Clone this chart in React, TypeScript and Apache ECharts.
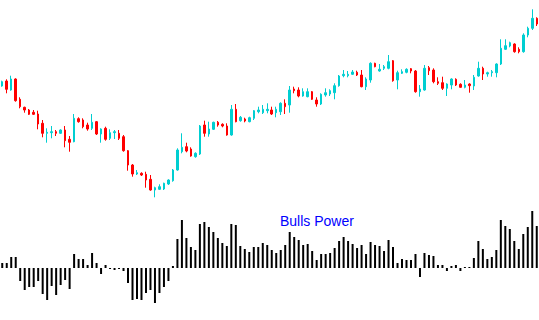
import React, { useEffect, useRef } from "react";
import * as echarts from "echarts";

// Price candles: [open, close, low, high]
const candles: number[][] = [
  [114, 118.3, 113.3, 119.3], [119, 110.7, 106.7, 120.7], [110, 121, 109.3, 124.3], [121, 99.3, 98.3, 121.7],
  [100.7, 93.3, 91.7, 102.7], [92.7, 90, 87.3, 93.3], [90, 85.7, 85, 91], [87.7, 85.7, 85, 90],
  [86, 76, 70.7, 89.3], [76.7, 66.7, 62.7, 80], [66.7, 67.7, 57.3, 71.7], [67.3, 68.3, 61.7, 74],
  [68.3, 66.7, 64, 70], [66.7, 70, 66, 70.7], [70, 59.3, 52.7, 74], [60.7, 57.7, 48.3, 64],
  [58.3, 81.7, 57.7, 86], [81.3, 78.3, 77.3, 82.7], [80, 73.3, 71.7, 81.7], [75, 71, 69.3, 77.3],
  [71.7, 77.7, 70, 86], [78.3, 66, 65, 79], [66, 71, 57.3, 71.7], [71.7, 60.7, 59.3, 73.3],
  [61.7, 67.3, 60, 70.7], [67.3, 68.3, 61, 70], [66.7, 61.7, 60, 70], [63.3, 49.3, 48.3, 65],
  [49.3, 35, 29.3, 50], [35, 26, 23.3, 36], [26, 27.3, 25, 30], [26.7, 25, 24, 27.7],
  [25.7, 20, 12.3, 28.3], [20.7, 10, 9.3, 25], [10, 12.3, 2.7, 13.3], [10.7, 13.3, 10, 15.7],
  [11, 16.7, 10, 17.3], [16, 20, 15, 20.7], [19.3, 30, 18.3, 31], [30, 50, 29.3, 51.7],
  [48.3, 52.7, 46.7, 66.7], [53.3, 49, 47.7, 57.3], [51, 44, 43.3, 52.7], [43.3, 46.7, 42.3, 47.7],
  [46, 74, 45, 75], [75, 66.7, 63.3, 79.3], [66, 71, 63.3, 78.3], [70.7, 77.7, 70, 78.3],
  [77.7, 75, 73.3, 79], [75.7, 74, 72.7, 76.7], [74, 65, 64.3, 76.7], [65, 90.7, 64.3, 95],
  [90.7, 78.3, 77.7, 96], [79.3, 82.7, 78.3, 84], [81, 79, 77.7, 82.3], [78.3, 82.3, 77.7, 83.3],
  [81.7, 89.3, 80, 90], [88.3, 90, 86.7, 93.3], [87.3, 90.7, 86, 95], [89.3, 90.7, 86.7, 96.7],
  [90, 86, 85, 93.3], [87.3, 90.7, 82.7, 93.3], [88.3, 96.7, 85, 97.7], [96.7, 93.3, 86, 100.7],
  [95, 110, 87.3, 114], [111, 109.3, 106.7, 113.3], [110, 104, 102.7, 112.7], [104, 108.3, 103.3, 111.7],
  [103.3, 108.3, 102.7, 111.7], [108.3, 100.7, 100, 109], [100, 96, 93.3, 102.7], [96, 105.7, 95, 106.7],
  [105, 107.3, 103.3, 111.7], [106, 109.3, 104, 110.7], [107.3, 114.3, 100.7, 116.7], [114.3, 124, 113.3, 125],
  [124.3, 125.7, 122.7, 130], [124.3, 125.7, 122.7, 129], [125.7, 128, 125, 130], [127.7, 125, 124, 129.3],
  [125, 113.3, 112.7, 130], [113.3, 121, 110, 122.7], [120, 136.7, 117.3, 137.7], [136.7, 133.3, 132.7, 137.3],
  [129, 130.7, 128.3, 136], [131.7, 133.3, 130, 135], [131.7, 138.3, 130.7, 145], [139.3, 119.3, 118.3, 140],
  [120, 127.3, 110.7, 129.3], [126.7, 128.3, 126, 130.7], [127.7, 130.7, 126.7, 131.7], [131.3, 129, 126.7, 132],
  [129, 108.3, 107.3, 130], [108.3, 111, 103.3, 115], [110, 131.7, 109.3, 135], [132.3, 129.3, 125, 134],
  [130, 118.3, 116.7, 131.7], [118.3, 116.7, 115, 122.7], [117.3, 111.7, 110, 123.3], [111.7, 116, 104, 116.7],
  [115, 121, 110.7, 121.7], [120.7, 115, 114, 121.7], [115.7, 112.7, 112.3, 116.7], [112.7, 115, 111.7, 120],
  [116, 114.3, 107.3, 116.7], [114, 122.7, 110, 125], [124, 131.7, 123.3, 138.3], [131.7, 126, 120, 133.3],
  [126, 127.3, 123.3, 128.3], [127.3, 128.3, 123.3, 130], [127.3, 136, 122.7, 136.7], [136, 151.7, 135, 160.7],
  [150.7, 154.3, 150, 160.7], [154, 157.3, 152.7, 158.3], [156, 148.3, 147.3, 156.7], [150.7, 148.3, 146.7, 152.7],
  [148.3, 165, 147.3, 166.7], [165, 171.7, 162.7, 173.3], [171.7, 181.7, 170, 190.7], [181.7, 176, 174, 182.7],
];

// Bulls Power histogram
const bullsPower: number[] = [
  5, 5, 11, 11, -13, -22, -19, -19, -13, -26, -32, -18, -27, -17, -12, -21, 14, 9, 9, 3, 15, 5, -6, 3, -1, -2, -1, -3, -15, -32,
  -31, -32, -25, -22, -35, -25, -19, -13, 2, 29, 48, 30, 21, 18, 44, 46, 41, 36, 30, 25, 22, 44, 43, 22, 19, 16, 21, 21, 25, 23,
  18, 15, 18, 23, 36, 31, 28, 23, 24, 17, 8, 14, 14, 15, 20, 27, 31, 27, 24, 20, 23, 14, 26, 23, 22, 17, 28, 21, 5, 9,
  8, 8, 14, -9, 15, 13, 12, 3, 3, -3, 2, 3, -3, 1, 1, 10, 27, 19, 9, 11, 18, 48, 42, 39, 27, 19, 34, 41, 57, 42,
];

const categories: string[] = candles.map((_, i) => String(i + 1));
const indicatorLabel = "Bulls Power";

export default function App() {
  const ref = useRef<HTMLDivElement>(null);
  useEffect(() => {
    if (!ref.current) return;
    const chart = echarts.init(ref.current, undefined, { renderer: "svg" });
    chart.setOption({
      animation: false,
      backgroundColor: "#ffffff",
      grid: [
        { left: -1, right: 0, top: 0, height: 200 },
        { left: -1, right: 0, top: 200, height: 120 },
      ],
      xAxis: [
        { type: "category", data: categories, gridIndex: 0, show: false, boundaryGap: true },
        { type: "category", data: categories, gridIndex: 1, show: false, boundaryGap: true },
      ],
      yAxis: [
        { type: "value", gridIndex: 0, min: 0, max: 200, show: false, splitLine: { show: false } },
        { type: "value", gridIndex: 1, min: -52, max: 68, show: false, splitLine: { show: false } },
      ],
      series: [
        {
          type: "candlestick",
          xAxisIndex: 0,
          yAxisIndex: 0,
          data: candles,
          barWidth: 2,
          itemStyle: {
            color: "#00CED1",
            color0: "#FF0000",
            borderColor: "#00CED1",
            borderColor0: "#FF0000",
            borderWidth: 1,
          },
        },
        {
          type: "bar",
          xAxisIndex: 1,
          yAxisIndex: 1,
          data: bullsPower,
          barWidth: 2,
          itemStyle: { color: "#000000" },
        },
      ],
      graphic: [
        {
          type: "text",
          left: 280,
          top: 214,
          style: {
            text: indicatorLabel,
            fill: "#0000FF",
            font: '14px "Liberation Sans", Arial, sans-serif',
          },
        },
      ],
    });
    return () => chart.dispose();
  }, []);
  return (
    <div
      ref={ref}
      style={{ position: "fixed", left: 0, top: 0, width: 539, height: 320, background: "#fff" }}
    />
  );
}
